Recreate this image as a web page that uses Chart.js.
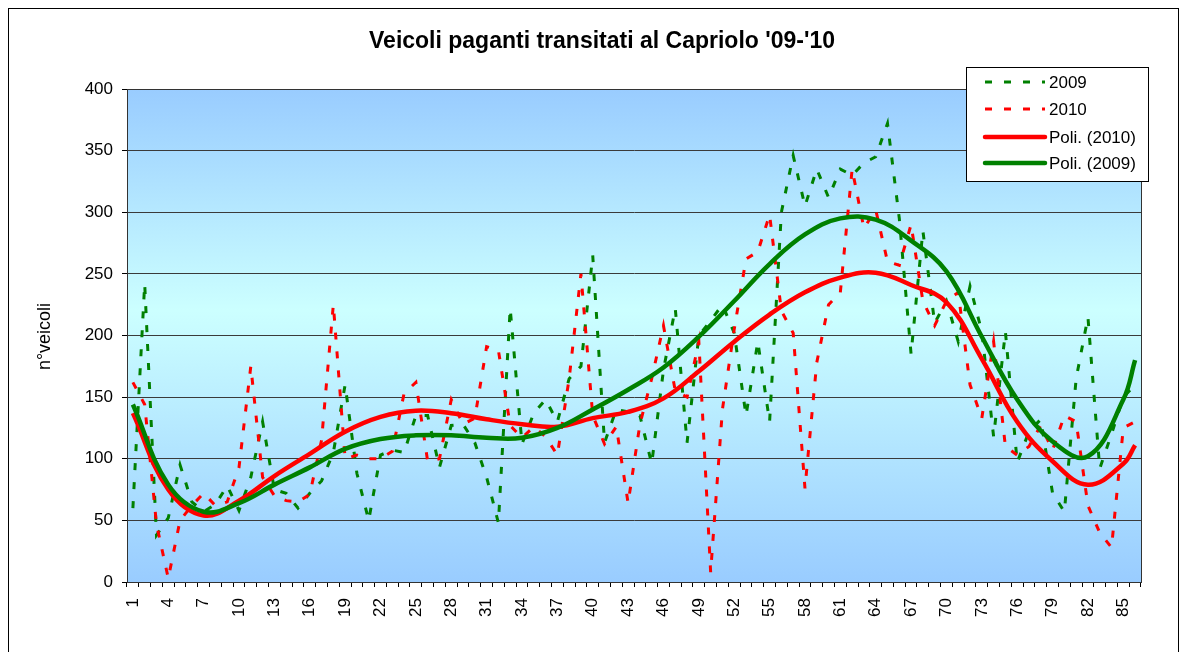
<!DOCTYPE html>
<html>
<head>
<meta charset="utf-8">
<script src="https://cdn.jsdelivr.net/npm/chart.js@4.4.0/dist/chart.umd.min.js"></script>
<style>
  html, body { margin: 0; padding: 0; background: #fff; }
  #wrap { width: 1187px; height: 652px; position: relative; }
</style>
</head>
<body>
<div id="wrap"><canvas id="grafico"></canvas></div>
<script>
// categorie (giorni 1..86)
const categorie = Array.from({ length: 86 }, (_, i) => String(i + 1));

// veicoli paganti 2009 (linea tratteggiata verde)
const valori2009 = [
  60, 242, 38, 52, 95, 65, 57, 63, 78, 58,
  85, 130, 75, 72, 60, 72, 82, 105, 160, 88,
  50, 103, 107, 105, 135, 135, 93, 127, 128, 113,
  85, 48, 222, 112, 137, 148, 130, 165, 175, 265,
  113, 140, 138, 135, 96, 172, 222, 113, 200, 212,
  225, 202, 135, 195, 130, 300, 346, 305, 335, 312,
  335, 330, 340, 345, 372, 295, 185, 285, 210, 228,
  195, 240, 203, 118, 203, 97, 122, 132, 72, 57,
  165, 215, 92, 120, 150, 160
];

// veicoli paganti 2010 (linea tratteggiata rossa)
const valori2010 = [
  162, 144, 47, 3, 50, 62, 72, 62, 65, 93,
  175, 85, 70, 66, 65, 71, 115, 225, 100, 103,
  100, 100, 106, 153, 162, 98, 100, 148, 128, 133,
  191, 188, 127, 117, 126, 118, 103, 165, 250, 135,
  112, 126, 64, 128, 165, 208, 155, 150, 195, 8,
  140, 205, 262, 268, 298, 220, 202, 76, 178, 225,
  235, 335, 287, 302, 260, 257, 290, 228, 208, 228,
  235, 160, 133, 195, 110, 103, 110, 127, 107, 135,
  130, 62, 40, 28, 125, 130
];

const puntiTendenza = ['1', '4', '7', '10', '13', '16', '19', '22', '25', '28',
  '31', '34', '37', '40', '43', '46', '49', '52', '55', '58',
  '61', '64', '67', '70', '73', '76', '79', '82', '85', '86'];
const poli2009 = [144, 79, 57, 64, 79, 93, 108, 116, 119, 119,
  117, 117, 125, 140, 156, 174, 199, 228, 258, 282,
  295, 294, 277, 252, 199, 148, 114, 102, 148, 180];
const poli2010 = [137, 75, 54, 66, 86, 104, 122, 134, 139, 137,
  132, 128, 126, 133, 138, 149, 171, 195, 217, 235,
  247, 251, 241, 227, 181, 130, 98, 79, 96, 111];

// etichette asse x: una ogni 3 categorie
const etichetteX = categorie.filter((_, i) => i % 3 === 0);

const FONT = '"Liberation Sans", Arial, sans-serif';
const VERDE = '#008000';
const ROSSO = '#FF0000';

const voceLegenda = [
  { testo: '2009', colore: VERDE, tratteggio: true },
  { testo: '2010', colore: ROSSO, tratteggio: true },
  { testo: 'Poli. (2010)', colore: ROSSO, tratteggio: false },
  { testo: 'Poli. (2009)', colore: VERDE, tratteggio: false }
];

/**
 * Sfondo sfumato, cornici, titolo e legenda
 */
const decorazioni = {
  id: 'decorazioni',
  beforeDraw(chart) {
    const { ctx, chartArea: a } = chart;
    ctx.save();
    ctx.fillStyle = '#fff';
    ctx.fillRect(0, 0, chart.width, chart.height);
    const g = ctx.createLinearGradient(0, a.top, 0, a.bottom);
    g.addColorStop(0, '#99CCFF');
    g.addColorStop(0.45, '#CCFFFF');
    g.addColorStop(1, '#99CCFF');
    ctx.fillStyle = g;
    ctx.fillRect(a.left, a.top, a.right - a.left, a.bottom - a.top);
    // cornice esterna
    ctx.strokeStyle = '#000';
    ctx.lineWidth = 1;
    ctx.strokeRect(8.5, 8.5, chart.width - 17, chart.height + 20);
    ctx.restore();
  },
  afterDatasetsDraw(chart) {
    const { ctx, chartArea: a } = chart;
    ctx.save();
    ctx.strokeStyle = '#333';
    ctx.lineWidth = 1;
    ctx.strokeRect(a.left + 0.5, a.top + 0.5, a.right - a.left, a.bottom - a.top);
    ctx.restore();
  },
  afterDraw(chart) {
    const { ctx, chartArea: a } = chart;
    ctx.save();
    ctx.fillStyle = '#000';

    // titolo
    ctx.font = 'bold 23px ' + FONT;
    ctx.textAlign = 'center';
    ctx.textBaseline = 'middle';
    ctx.fillText("Veicoli paganti transitati al Capriolo '09-'10", 602, 42);

    // titolo asse y
    ctx.save();
    ctx.translate(45, (a.top + a.bottom) / 2 + 1);
    ctx.rotate(-Math.PI / 2);
    ctx.font = '18px ' + FONT;
    ctx.fillText('n°veicoli', 0, 0);
    ctx.restore();

    // legenda
    const bx = 966, by = 67, bw = 182, bh = 114;
    ctx.fillStyle = '#fff';
    ctx.fillRect(bx, by, bw, bh);
    ctx.strokeStyle = '#000';
    ctx.lineWidth = 1;
    ctx.strokeRect(bx + 0.5, by + 0.5, bw, bh);
    const righe = [82, 109, 137, 163];
    voceLegenda.forEach((v, i) => {
      const y = righe[i];
      ctx.beginPath();
      ctx.strokeStyle = v.colore;
      ctx.lineWidth = v.tratteggio ? 3 : 4.5;
      ctx.lineCap = v.tratteggio ? 'butt' : 'round';
      ctx.setLineDash(v.tratteggio ? [7, 12] : []);
      ctx.moveTo(985, y);
      ctx.lineTo(1045, y);
      ctx.stroke();
      ctx.setLineDash([]);
      ctx.fillStyle = '#000';
      ctx.font = '17px ' + FONT;
      ctx.textAlign = 'left';
      ctx.textBaseline = 'middle';
      ctx.fillText(v.testo, 1049, y + 1);
    });
    ctx.restore();
  }
};

const datiTendenza = (valori) => puntiTendenza.map((x, i) => ({ x: x, y: valori[i] }));

new Chart(document.getElementById('grafico').getContext('2d'), {
  type: 'line',
  data: {
    labels: categorie,
    datasets: [
      {
        label: 'Poli. (2009)',
        data: datiTendenza(poli2009),
        borderColor: VERDE,
        borderWidth: 4.5,
        tension: 0.4,
        pointRadius: 0,
        order: 0
      },
      {
        label: 'Poli. (2010)',
        data: datiTendenza(poli2010),
        borderColor: ROSSO,
        borderWidth: 4.5,
        tension: 0.4,
        pointRadius: 0,
        order: 1
      },
      {
        label: '2010',
        data: valori2010,
        borderColor: ROSSO,
        borderWidth: 3,
        borderDash: [7, 12],
        borderCapStyle: 'butt',
        tension: 0,
        pointRadius: 0,
        order: 2
      },
      {
        label: '2009',
        data: valori2009,
        borderColor: VERDE,
        borderWidth: 3,
        borderDash: [7, 12],
        borderCapStyle: 'butt',
        tension: 0,
        pointRadius: 0,
        order: 3
      }
    ]
  },
  options: {
    responsive: true,
    maintainAspectRatio: false,
    animation: false,
    layout: { padding: { top: 89, right: 46, left: 0, bottom: 0 } },
    plugins: {
      legend: { display: false },
      title: { display: false },
      tooltip: { enabled: false }
    },
    scales: {
      x: {
        type: 'category',
        offset: true,
        afterFit: (s) => { s.height = 70; },
        grid: {
          offset: true,
          drawOnChartArea: false,
          drawTicks: true,
          tickLength: 5,
          color: '#000'
        },
        border: { color: '#000', width: 1 },
        ticks: {
          autoSkip: false,
          minRotation: 90,
          maxRotation: 90,
          padding: 11,
          color: '#000',
          font: { family: FONT, size: 17 },
          callback: (v, i) => (etichetteX.includes(categorie[i]) ? categorie[i] : '')
        }
      },
      y: {
        min: 0,
        max: 400,
        afterFit: (s) => { s.width = 127; },
        grid: {
          color: '#3a3a3a',
          lineWidth: 1,
          drawTicks: true,
          tickLength: 5,
          tickColor: '#000'
        },
        border: { color: '#000', width: 1 },
        ticks: {
          stepSize: 50,
          padding: 9,
          color: '#000',
          font: { family: FONT, size: 17 }
        }
      }
    }
  },
  plugins: [decorazioni]
});
</script>
</body>
</html>
